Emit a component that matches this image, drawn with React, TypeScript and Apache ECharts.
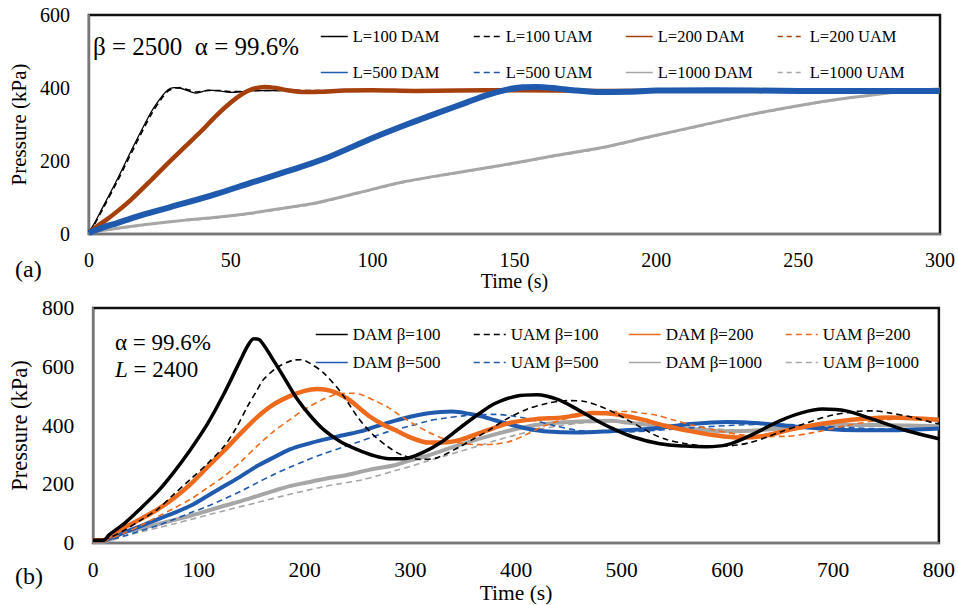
import React, { useEffect, useRef } from "react";
import * as echarts from "echarts";

const FONT = "Liberation Serif, Times New Roman, serif";

// ---------- (a) beta = 2500, alpha = 99.6% ----------
const xTicksA = [0, 50, 100, 150, 200, 250, 300];
const yTicksA = [0, 200, 400, 600];

const aL100DAM: [number, number][] = [
  [0, 5], [2, 30], [5, 75], [10, 150], [16, 245], [22, 335], [26, 380], [28, 396], [30, 401], [32, 400],
  [35, 392], [38, 386], [42, 394], [46, 392], [50, 388], [55, 391], [60, 393], [70, 393], [80, 393],
  [100, 393], [150, 393], [200, 393], [250, 393], [300, 393],
];
const aL100UAM: [number, number][] = [
  [0, 5], [2, 27], [5, 70], [10, 144], [16, 238], [22, 328], [26, 375], [28, 392], [30, 399], [32, 401],
  [35, 395], [38, 389], [42, 393], [46, 393], [50, 390], [55, 391], [60, 393], [70, 393], [80, 393],
  [100, 393], [150, 393], [200, 393], [250, 393], [300, 393],
];
const aL200DAM: [number, number][] = [
  [0, 5], [3, 22], [6, 38], [10, 62], [15, 95], [22, 148], [28, 195], [34, 240], [40, 285], [45, 325],
  [50, 360], [54, 383], [58, 398], [62, 403], [66, 400], [70, 394], [76, 389], [82, 390], [90, 393],
  [100, 394], [115, 392], [130, 393], [150, 394], [180, 392], [220, 393], [260, 393], [300, 393],
];
const aL200UAM: [number, number][] = [
  [0, 5], [3, 20], [6, 36], [10, 60], [15, 93], [22, 145], [28, 192], [34, 237], [40, 282], [45, 322],
  [50, 357], [54, 381], [58, 396], [62, 402], [66, 401], [70, 395], [76, 390], [82, 390], [90, 393],
  [100, 394], [115, 392], [130, 393], [150, 394], [180, 392], [220, 393], [260, 393], [300, 393],
];
const aL500DAM: [number, number][] = [
  [0, 3], [5, 18], [10, 30], [20, 55], [34, 85], [45, 110], [57, 140], [70, 172], [83, 206], [100, 263],
  [112, 300], [123, 332], [133, 360], [140, 380], [147, 395], [153, 402], [158, 403], [165, 399],
  [172, 393], [180, 389], [190, 390], [200, 393], [220, 394], [250, 392], [280, 392], [300, 392],
];
const aL500UAM: [number, number][] = [
  [0, 3], [5, 16], [10, 28], [20, 53], [34, 83], [45, 108], [57, 138], [70, 170], [83, 204], [100, 261],
  [112, 298], [123, 330], [133, 358], [140, 378], [147, 394], [153, 401], [158, 403], [165, 400],
  [172, 394], [180, 390], [190, 390], [200, 393], [220, 394], [250, 392], [280, 392], [300, 392],
];
const aL1000DAM: [number, number][] = [
  [0, 2], [5, 10], [10, 16], [20, 26], [34, 38], [45, 46], [57, 57], [68, 70], [80, 85], [95, 113],
  [111, 143], [128, 166], [146, 189], [163, 213], [181, 237], [198, 267], [216, 298], [233, 327],
  [251, 353], [268, 373], [286, 390], [300, 397],
];
const aL1000UAM: [number, number][] = [
  [0, 2], [5, 8], [10, 14], [20, 24], [34, 36], [45, 44], [57, 55], [68, 68], [80, 83], [95, 111],
  [111, 141], [128, 164], [146, 187], [163, 211], [181, 235], [198, 265], [216, 296], [233, 325],
  [251, 351], [268, 372], [286, 389], [300, 396],
];

// ---------- (b) alpha = 99.6%, L = 2400 ----------
const xTicksB = [0, 100, 200, 300, 400, 500, 600, 700, 800];
const yTicksB = [0, 200, 400, 600, 800];

const bB100DAM: [number, number][] = [
  [0, 10], [10, 10], [15, 28], [30, 68], [45, 118], [61, 175], [76, 240], [92, 318], [108, 405],
  [124, 510], [139, 620], [146, 670], [152, 695], [158, 690], [170, 625], [182, 555], [193, 490],
  [205, 435], [218, 386], [234, 345], [250, 318], [265, 298], [280, 287], [295, 288], [310, 305],
  [330, 345], [348, 395], [365, 440], [380, 475], [400, 500], [420, 505], [440, 488], [458, 455],
  [475, 420], [490, 392], [510, 362], [536, 338], [560, 330], [580, 328], [600, 335], [621, 365],
  [649, 415], [670, 443], [690, 456], [712, 450], [737, 422], [769, 383], [800, 355],
];
const bB100UAM: [number, number][] = [
  [0, 10], [15, 18], [30, 45], [45, 78], [61, 115], [76, 165], [92, 217], [108, 270], [124, 330],
  [135, 390], [146, 465], [155, 520], [161, 556], [175, 600], [189, 622], [197, 624], [205, 612],
  [218, 579], [235, 510], [250, 430], [263, 375], [278, 330], [292, 300], [310, 285], [325, 290],
  [348, 330], [360, 355], [373, 381], [390, 420], [410, 455], [430, 476], [449, 485], [465, 482],
  [480, 465], [495, 440], [505, 420], [520, 390], [530, 370], [543, 352], [558, 340], [580, 330],
  [596, 330], [610, 334], [621, 342], [637, 360], [652, 381], [668, 400], [684, 420], [700, 436],
  [722, 448], [738, 450], [753, 443], [775, 428], [794, 410], [800, 405],
];
const bB200DAM: [number, number][] = [
  [0, 10], [10, 10], [15, 22], [30, 54], [45, 82], [61, 115], [76, 152], [92, 200], [108, 258],
  [124, 315], [140, 375], [155, 428], [170, 470], [186, 500], [200, 518], [212, 524], [225, 518],
  [240, 493], [250, 465], [262, 430], [275, 402], [285, 386], [300, 360], [317, 342], [330, 342],
  [348, 352], [370, 380], [395, 410], [420, 422], [442, 427], [460, 437], [473, 443], [485, 442],
  [500, 435], [520, 420], [540, 400], [565, 381], [590, 366], [612, 359], [635, 365], [659, 386],
  [685, 404], [706, 415], [730, 423], [753, 427], [775, 425], [800, 420],
];
const bB200UAM: [number, number][] = [
  [0, 10], [15, 15], [30, 35], [45, 60], [61, 90], [76, 118], [92, 149], [108, 188], [124, 228],
  [140, 278], [155, 330], [170, 378], [186, 420], [200, 455], [218, 490], [232, 508], [245, 510],
  [254, 505], [266, 485], [279, 462], [290, 435], [301, 410], [316, 380], [332, 354], [348, 340],
  [364, 335], [380, 337], [395, 347], [410, 370], [426, 398], [442, 418], [458, 432], [475, 443],
  [489, 448], [505, 448], [520, 442], [533, 435], [550, 418], [565, 403], [590, 383], [612, 369],
  [635, 363], [655, 363], [681, 376], [710, 398], [737, 415], [765, 422], [794, 420], [800, 420],
];
const bB500DAM: [number, number][] = [
  [0, 8], [10, 8], [15, 15], [30, 37], [45, 58], [61, 81], [76, 102], [92, 127], [108, 160],
  [124, 194], [140, 228], [155, 262], [170, 290], [186, 319], [202, 337], [218, 352], [235, 366],
  [255, 382], [270, 400], [285, 416], [300, 430], [317, 442], [339, 448], [364, 434], [380, 418],
  [395, 403], [410, 390], [426, 381], [458, 376], [489, 381], [530, 390], [565, 405], [600, 412],
  [630, 408], [659, 398], [706, 386], [753, 384], [800, 390],
];
const bB500UAM: [number, number][] = [
  [0, 8], [15, 12], [30, 25], [45, 42], [61, 60], [76, 80], [92, 103], [108, 125], [124, 150],
  [140, 177], [155, 205], [170, 232], [186, 258], [202, 282], [218, 304], [235, 325], [250, 343],
  [265, 362], [280, 380], [301, 400], [316, 415], [332, 425], [350, 433], [365, 437], [380, 438],
  [398, 432], [417, 418], [438, 398], [458, 384], [480, 378], [500, 378], [530, 383], [565, 392],
  [600, 400], [640, 405], [680, 400], [720, 392], [760, 388], [800, 390],
];
const bB1000DAM: [number, number][] = [
  [0, 5], [10, 5], [15, 10], [30, 37], [45, 50], [61, 64], [76, 78], [92, 93], [108, 110], [124, 127],
  [140, 143], [155, 160], [170, 177], [186, 194], [202, 206], [218, 218], [240, 232], [262, 250],
  [285, 265], [300, 282], [317, 298], [348, 336], [379, 369], [411, 397], [442, 410], [473, 415],
  [490, 416], [505, 410], [530, 400], [549, 393], [575, 386], [596, 381], [620, 382], [659, 393],
  [706, 403], [750, 401], [800, 398],
];
const bB1000UAM: [number, number][] = [
  [0, 5], [15, 8], [30, 24], [45, 38], [61, 52], [76, 65], [92, 80], [108, 95], [124, 110],
  [155, 138], [186, 166], [218, 192], [235, 203], [254, 215], [270, 230], [285, 246], [301, 262],
  [317, 280], [332, 296], [348, 313], [364, 330], [380, 348], [400, 368], [420, 386], [440, 399],
  [460, 408], [480, 413], [500, 414], [520, 410], [545, 402], [570, 393], [600, 386], [630, 384],
  [660, 388], [700, 395], [740, 400], [780, 400], [800, 400],
];

const BLACK = "#000000";
const BROWN = "#A5400C";
const BLUE = "#1F5AAE";
const GRAY = "#A6A6A6";
const ORANGE = "#EE6A1C";

function line(
  name: string,
  data: [number, number][],
  idx: number,
  color: string,
  width: number,
  dash: number[] | null,
  z: number
) {
  return {
    type: "line",
    name,
    data,
    xAxisIndex: idx,
    yAxisIndex: idx,
    symbol: "none",
    smooth: 0.3,
    z,
    itemStyle: { color },
    lineStyle: { color, width, type: dash ? dash : "solid" },
    emphasis: { disabled: true },
  };
}

function legendCol(names: string[], left: number, top: number, big: boolean) {
  return {
    data: names,
    orient: "vertical",
    left,
    top,
    padding: 0,
    itemWidth: big ? 32 : 27,
    itemHeight: big ? 17 : 16,
    itemGap: big ? 11 : 19,
    selectedMode: false,
    lineStyle: { width: 1.5 },
    itemStyle: { color: "rgba(0,0,0,0)", borderColor: "rgba(0,0,0,0)", borderWidth: 0, opacity: 0 },
    textStyle: { fontFamily: FONT, fontSize: big ? 17 : 16.5, color: "#000" },
  };
}

function xAxis(idx: number, max: number, interval: number, fs: number, gap: number) {
  return {
    type: "value",
    gridIndex: idx,
    min: 0,
    max,
    interval,
    name: "Time (s)",
    nameLocation: "middle",
    nameGap: gap,
    nameTextStyle: { fontFamily: FONT, fontSize: fs, color: "#000" },
    axisLine: { show: true, lineStyle: { color: "#777", width: 2 } },
    axisTick: { show: false },
    splitLine: { show: false },
    axisLabel: { fontFamily: FONT, fontSize: fs, color: "#000", margin: 16 },
  };
}

function yAxis(idx: number, max: number, fs: number, gap: number) {
  return {
    type: "value",
    gridIndex: idx,
    min: 0,
    max,
    interval: 200,
    name: "Pressure (kPa)",
    nameLocation: "middle",
    nameGap: gap,
    nameRotate: 90,
    nameTextStyle: { fontFamily: FONT, fontSize: fs + 1, color: "#000" },
    axisLine: { show: true, lineStyle: { color: "#777", width: 2 } },
    axisTick: { show: false },
    splitLine: { show: false },
    axisLabel: { fontFamily: FONT, fontSize: fs, color: "#000", margin: 19 },
  };
}

function label(text: string, left: number, top: number, size: number, rich?: any) {
  return {
    type: "text",
    left,
    top,
    style: { text, fontFamily: FONT, fontSize: size, fill: "#000", rich },
  };
}

export default function App() {
  const ref = useRef<HTMLDivElement>(null);
  useEffect(() => {
    if (!ref.current) return;
    const chart = echarts.init(ref.current, null, { renderer: "svg" });
    const option = {
      animation: false,
      backgroundColor: "#fff",
      textStyle: { fontFamily: FONT },
      grid: [
        { left: 81, top: 15, width: 860, height: 219, show: true, borderColor: "#111", borderWidth: 2.5, backgroundColor: "transparent" },
        { left: 90, top: 308, width: 850, height: 236, show: true, borderColor: "#111", borderWidth: 2.5, backgroundColor: "transparent" },
      ],
      xAxis: [
        xAxis(0, xTicksA[xTicksA.length - 1], xTicksA[1] - xTicksA[0], 20, 21),
        xAxis(1, xTicksB[xTicksB.length - 1], xTicksB[1] - xTicksB[0], 21.5, 30),
      ],
      yAxis: [
        yAxis(0, yTicksA[yTicksA.length - 1], 20, 54),
        yAxis(1, yTicksB[yTicksB.length - 1], 21.5, 58),
      ],
      legend: [
        legendCol(["L=100 DAM", "L=500 DAM"], 320, 28, false),
        legendCol(["L=100 UAM", "L=500 UAM"], 473, 28, false),
        legendCol(["L=200 DAM", "L=1000 DAM"], 625, 28, false),
        legendCol(["L=200 UAM", "L=1000 UAM"], 777, 28, false),
        legendCol(["DAM β=100", "DAM β=500"], 315, 326, true),
        legendCol(["UAM β=100", "UAM β=500"], 473, 326, true),
        legendCol(["DAM β=200", "DAM β=1000"], 628, 326, true),
        legendCol(["UAM β=200", "UAM β=1000"], 785, 326, true),
      ],
      series: [
        line("L=1000 DAM", aL1000DAM, 0, GRAY, 3, null, 2),
        line("L=1000 UAM", aL1000UAM, 0, GRAY, 1.5, [5, 4], 2),
        line("L=100 DAM", aL100DAM, 0, BLACK, 1.3, null, 3),
        line("L=100 UAM", aL100UAM, 0, BLACK, 1.6, [6, 4], 3),
        line("L=200 DAM", aL200DAM, 0, BROWN, 4.5, null, 3),
        line("L=200 UAM", aL200UAM, 0, BROWN, 1.5, [5, 4], 3),
        line("L=500 DAM", aL500DAM, 0, BLUE, 6, null, 4),
        line("L=500 UAM", aL500UAM, 0, BLUE, 1.5, [6, 4], 4),

        line("DAM β=1000", bB1000DAM, 1, GRAY, 4, null, 2),
        line("UAM β=1000", bB1000UAM, 1, GRAY, 1.6, [6, 4], 2),
        line("DAM β=500", bB500DAM, 1, BLUE, 4, null, 3),
        line("UAM β=500", bB500UAM, 1, BLUE, 1.6, [6, 4], 3),
        line("DAM β=200", bB200DAM, 1, ORANGE, 4.5, null, 3),
        line("UAM β=200", bB200UAM, 1, ORANGE, 1.6, [6, 4], 3),
        line("DAM β=100", bB100DAM, 1, BLACK, 3.5, null, 4),
        line("UAM β=100", bB100UAM, 1, BLACK, 1.6, [6, 4], 4),
      ],
      graphic: [
        label("β = 2500  α = 99.6%", 93, 34, 25),
        label("(a)", 15, 257, 24),
        label("(b)", 15, 564, 24),
        label("α = 99.6%", 115, 331, 23),
        label("{i|L} = 2400", 115, 358, 23, {
          i: { fontStyle: "italic", fontFamily: FONT, fontSize: 23, fill: "#000" },
        }),
      ],
    };
    chart.setOption(option as any);
    return () => chart.dispose();
  }, []);
  return (
    <div
      ref={ref}
      style={{ position: "absolute", left: 0, top: 0, width: 958, height: 605, background: "#fff" }}
    />
  );
}
